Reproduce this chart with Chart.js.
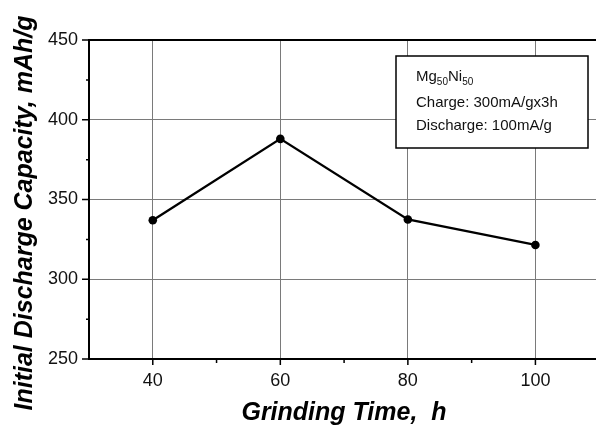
<!DOCTYPE html>
<html>
<head>
<meta charset="utf-8">
<script src="https://cdn.jsdelivr.net/npm/chart.js@4/dist/chart.umd.min.js"></script>
<style>
    html, body { margin: 0; padding: 0; background: #fff; overflow: hidden; }
    #wrap { width: 596px; height: 426px; position: relative; }
</style>
</head>
<body>
<div id="wrap"><canvas id="capacityChart" width="596" height="426"></canvas></div>
<script>
const grindTime = [40, 60, 80, 100];
const capacity = [337, 388, 337.5, 321.5];
const xTicks = [40, 60, 80, 100];
const xMinorTicks = [50, 70, 90];
const yTicks = [250, 300, 350, 400, 450];
const yMinorTicks = [275, 325, 375, 425];
const xTitle = "Grinding Time,  h";
const yTitle = "Initial Discharge Capacity, mAh/g";
const noteLines = ["Charge: 300mA/gx3h", "Discharge: 100mA/g"];

const FONT = "'Liberation Sans', Arial, sans-serif";

// short outward tick marks, minor ones shorter
const tickMarks = {
    id: "tickMarks",
    afterDraw(chart) {
        const ctx = chart.ctx;
        const x = chart.scales.x;
        const y = chart.scales.y;
        const bottom = chart.chartArea.bottom;
        const left = chart.chartArea.left;
        ctx.save();
        ctx.strokeStyle = "#000";
        ctx.lineWidth = 1.5;
        ctx.beginPath();
        xTicks.forEach((v) => {
            const px = x.getPixelForValue(v);
            ctx.moveTo(px, bottom); ctx.lineTo(px, bottom + 6);
        });
        xMinorTicks.forEach((v) => {
            const px = x.getPixelForValue(v);
            ctx.moveTo(px, bottom); ctx.lineTo(px, bottom + 4);
        });
        yTicks.forEach((v) => {
            const py = y.getPixelForValue(v);
            ctx.moveTo(left, py); ctx.lineTo(left - 7, py);
        });
        yMinorTicks.forEach((v) => {
            const py = y.getPixelForValue(v);
            ctx.moveTo(left, py); ctx.lineTo(left - 3, py);
        });
        ctx.stroke();
        ctx.restore();
    }
};

const axisTitles = {
    id: "axisTitles",
    afterDraw(chart) {
        const ctx = chart.ctx;
        ctx.save();
        ctx.fillStyle = "#000";
        ctx.font = `italic bold 25px ${FONT}`;
        ctx.textAlign = "center";
        ctx.textBaseline = "alphabetic";
        ctx.fillText(xTitle, 344, 420);
        ctx.translate(32, 213);
        ctx.rotate(-Math.PI / 2);
        ctx.fillText(yTitle, 0, 0);
        ctx.restore();
    }
};

const noteBox = {
    id: "noteBox",
    afterDraw(chart) {
        const ctx = chart.ctx;
        ctx.save();
        ctx.fillStyle = "#fff";
        ctx.fillRect(396, 56, 192, 92);
        ctx.strokeStyle = "#000";
        ctx.lineWidth = 1.5;
        ctx.strokeRect(396, 56, 192, 92);
        ctx.fillStyle = "#111";
        ctx.textBaseline = "alphabetic";
        ctx.textAlign = "left";
        let cx = 416;
        const parts = [["Mg", false], ["50", true], ["Ni", false], ["50", true]];
        parts.forEach(([txt, sub]) => {
            ctx.font = sub ? `10px ${FONT}` : `15px ${FONT}`;
            ctx.fillText(txt, cx, sub ? 85 : 81);
            cx += ctx.measureText(txt).width;
        });
        ctx.font = `15px ${FONT}`;
        ctx.fillText(noteLines[0], 416, 107);
        ctx.fillText(noteLines[1], 416, 130);
        ctx.restore();
    }
};

new Chart(document.getElementById("capacityChart"), {
    type: "line",
    data: {
        datasets: [{
            data: grindTime.map((t, i) => ({ x: t, y: capacity[i] })),
            borderColor: "#000",
            backgroundColor: "#000",
            borderWidth: 2.3,
            pointRadius: 4.3,
            pointBorderWidth: 0,
            tension: 0
        }]
    },
    options: {
        responsive: false,
        animation: false,
        events: [],
        layout: { autoPadding: false, padding: { top: 40, right: 0, left: 0, bottom: 0 } },
        plugins: { legend: { display: false }, tooltip: { enabled: false } },
        scales: {
            x: {
                type: "linear",
                min: 30,
                max: 109.5,
                afterBuildTicks: (scale) => { scale.ticks = xTicks.map((v) => ({ value: v })); },
                afterFit: (scale) => { scale.height = 67; },
                grid: { color: "#7a7a7a", lineWidth: 1, drawTicks: false },
                border: { display: true, color: "#000", width: 2 },
                ticks: { color: "#111", padding: 11, font: { family: FONT, size: 18 } }
            },
            y: {
                min: 250,
                max: 450,
                afterBuildTicks: (scale) => { scale.ticks = yTicks.map((v) => ({ value: v })); },
                afterFit: (scale) => { scale.width = 89; },
                grid: {
                    color: (c) => (c.tick && (c.tick.value === 450 || c.tick.value === 250)) ? "#000" : "#7a7a7a",
                    lineWidth: (c) => (c.tick && (c.tick.value === 450 || c.tick.value === 250)) ? 2 : 1,
                    drawTicks: false
                },
                border: { display: true, color: "#000", width: 2 },
                ticks: { color: "#111", padding: 11, font: { family: FONT, size: 18 } }
            }
        }
    },
    plugins: [tickMarks, axisTitles, noteBox]
});
</script>
</body>
</html>
